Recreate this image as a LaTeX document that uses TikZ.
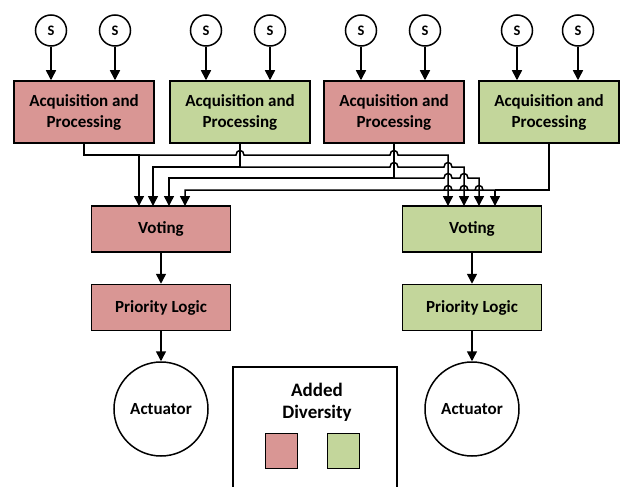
\documentclass[tikz,border=0pt]{standalone}
\usepackage{fontspec}
\setmainfont{Carlito}
\usetikzlibrary{arrows.meta,calc}
\definecolor{redf}{HTML}{D99694}
\definecolor{greenf}{HTML}{C3D69B}
\tikzset{
  base/.style={draw=black, line width=1.5pt, font=\bfseries\fontsize{17}{21}\selectfont, align=center, inner sep=0pt},
  acq/.style={base, minimum width=140pt, minimum height=62pt},
  blk/.style={base, minimum width=139pt, minimum height=46pt},
  sens/.style={base, circle, minimum size=31pt, font=\bfseries\fontsize{14.5}{16}\selectfont},
  act/.style={base, circle, minimum size=94pt},
  redbox/.style={fill=redf},
  greenbox/.style={fill=greenf},
  wire/.style={line width=1.5pt},
  arr/.style={wire, -{Triangle[width=10pt,length=10pt]}},
  hop/.style 2 args={insert path={-- (#1-4,#2) .. controls (#1-4,#2-6) and (#1+4,#2-6) .. (#1+4,#2)}}
}
\begin{document}
\begin{tikzpicture}[x=1pt,y=-1pt]
\useasboundingbox (0,0) rectangle (622,487);
% acquisition boxes
\node[acq,redbox]   (a1) at (84,112)    {Acquisition and\\Processing};
\node[acq,greenbox] (a2) at (240,112) {Acquisition and\\Processing};
\node[acq,redbox]   (a3) at (394,112) {Acquisition and\\Processing};
\node[acq,greenbox] (a4) at (549,112) {Acquisition and\\Processing};
% sensors
\node[sens] (s11) at (51,30.5)  {S};
\node[sens] (s12) at (115,30.5) {S};
\node[sens] (s21) at (206,30.5) {S};
\node[sens] (s22) at (270,30.5) {S};
\node[sens] (s31) at (361,30.5) {S};
\node[sens] (s32) at (425,30.5) {S};
\node[sens] (s41) at (517,30.5) {S};
\node[sens] (s42) at (578,30.5) {S};
\foreach \s/\a in {s11/a1,s12/a1,s21/a2,s22/a2,s31/a3,s32/a3,s41/a4,s42/a4}
  \draw[arr] (\s.south) -- (\s.south |- \a.north);
% voting, priority, actuators
\node[blk,redbox]   (v1) at (161,229) {Voting};
\node[blk,greenbox] (v2) at (472,229)   {Voting};
\node[blk,redbox]   (p1) at (161,307.5) {Priority Logic};
\node[blk,greenbox] (p2) at (472,307.5)   {Priority Logic};
\node[act] (c1) at (161,409) {Actuator};
\node[act] (c2) at (472,409) {Actuator};
\draw[arr] (v1.south) -- (p1.north);
\draw[arr] (v2.south) -- (p2.north);
\draw[arr] (p1.south) -- (c1.north);
\draw[arr] (p2.south) -- (c2.north);
% voting inputs
\coordinate (l1) at (139,206);
\coordinate (l2) at (153,206);
\coordinate (l3) at (169,206);
\coordinate (l4) at (185,206);
\coordinate (r1) at (448,206);
\coordinate (r2) at (464,206);
\coordinate (r3) at (479,206);
\coordinate (r4) at (495,206);
% bus from a1 (y=155)
\draw[arr] (a1.south) |- (139,155) -- (l1);
\draw[arr] (139,155) [hop={240}{155}] [hop={394}{155}] -- (448,155) -- (r1);
% bus from a2 (y=167)
\draw[wire] (a2.south) -- (240,167);
\draw[arr] (240,167) -- (153,167) -- (l2);
\draw[arr] (240,167) [hop={394}{167}] [hop={448}{167}] -- (464,167) -- (r2);
% bus from a3 (y=178)
\draw[wire] (a3.south) -- (394,178);
\draw[arr] (394,178) -- (169,178) -- (l3);
\draw[arr] (394,178) [hop={448}{178}] [hop={464}{178}] -- (479,178) -- (r3);
% bus from a4 (y=190)
\draw[wire] (a4.south) |- (495,190);
\draw[arr] (495,190) -- (r4);
\draw[arr] (495,190) [hop={479}{190}] [hop={464}{190}] [hop={448}{190}] -- (185,190) -- (l4);
% legend
\draw[wire] (233,487) -- (233,367) -- (397,367) -- (397,487);
\node[font=\bfseries\fontsize{19}{22}\selectfont, align=center] (lt) at (317,402) {Added\\Diversity};
\node[draw=black, line width=1pt, fill=redf, minimum width=32pt, minimum height=35pt, inner sep=0pt] (lr) at (281,450.5) {};
\node[draw=black, line width=1pt, fill=greenf, minimum width=32pt, minimum height=35pt, inner sep=0pt] (lg) at (343,450.5) {};
\end{tikzpicture}
\end{document}
